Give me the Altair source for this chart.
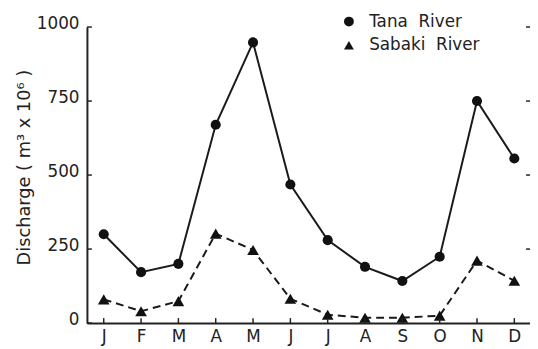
import altair as alt
import pandas as pd

MONTHS = ["J", "F", "M", "A", "M", "J", "J", "A", "S", "O", "N", "D"]
MONTH_NUM = list(range(1, 13))
TANA = [300, 172, 200, 670, 948, 468, 280, 190, 142, 224, 750, 556]
SABAKI = [80, 40, 74, 302, 247, 82, 28, 18, 18, 25, 211, 143]
Y_TICKS = [0, 250, 500, 750, 1000]
SERIES = ["Tana River", "Sabaki River"]

rows = []
for m, t, s in zip(MONTH_NUM, TANA, SABAKI):
    rows.append({"m": m, "v": t, "river": SERIES[0]})
    rows.append({"m": m, "v": s, "river": SERIES[1]})
df = pd.DataFrame(rows)
yt = pd.DataFrame({"v": Y_TICKS})
yt_r = pd.DataFrame({"v": Y_TICKS[1:]})
xt = pd.DataFrame({"m": MONTH_NUM})

FONT = "DejaVu Sans"
W, H = 449, 300
xscale = alt.Scale(domain=[0.55, 12.42], nice=False, zero=False)
yscale = alt.Scale(domain=[0, 1000], nice=False)

label_expr = "[" + ",".join("'%s'" % s for s in MONTHS) + "][datum.value - 1]"

xaxis = alt.Axis(values=MONTH_NUM, labelExpr=label_expr, ticks=False, grid=False,
                 domainColor="#222", domainWidth=2, labelFontSize=17, labelFont=FONT,
                 labelColor="#222", labelPadding=6, title=None, labelFlush=False)
yaxis = alt.Axis(values=Y_TICKS, format="d", ticks=False, grid=False, domainColor="#222", domainWidth=2,
                 labelFontSize=17, labelFont=FONT, labelColor="#222", labelPadding=8,
                 labelOffset=-4, labelFlush=False,
                 title="Discharge ( m³ x 10⁶ )", titleFont=FONT, titleFontSize=18,
                 titleFontWeight="normal", titleColor="#222", titleAngle=-90,
                 titleX=-63, titleY=142, titleAlign="center", titleBaseline="middle")

X = alt.X("m:Q", scale=xscale, axis=xaxis)
Y = alt.Y("v:Q", scale=yscale, axis=yaxis)
shape_scale = alt.Scale(domain=SERIES, range=["circle", "triangle-up"])
legend = alt.Legend(title=None, orient="none", legendX=257, legendY=-14,
                    labelFontSize=17, labelFont=FONT, labelColor="#222",
                    labelExpr="replace(datum.label, ' ', '\u00a0\u00a0')",
                    symbolFillColor="#111", symbolStrokeColor="#111",
                    symbolSize=100, rowPadding=6, padding=0, labelOffset=12)

base = alt.Chart(df)
tana = base.transform_filter(alt.datum.river == SERIES[0])
sabaki = base.transform_filter(alt.datum.river == SERIES[1])

line_t = tana.mark_line(color="#1a1a1a", strokeWidth=2).encode(x=X, y=Y)
line_s = sabaki.mark_line(color="#1a1a1a", strokeWidth=2, strokeDash=[8, 5]).encode(x=X, y=Y)
pts_t = tana.mark_point(filled=True, color="#111", opacity=1, size=105).encode(
    x=X, y=Y, shape=alt.Shape("river:N", scale=shape_scale, sort=SERIES, legend=legend))
pts_s = sabaki.mark_point(filled=True, color="#111", opacity=1, size=140).encode(
    x=X, y=Y, shape=alt.Shape("river:N", scale=shape_scale, sort=SERIES, legend=legend))

ytick_l = alt.Chart(yt).mark_rule(color="#222", strokeWidth=1.5).encode(
    y=Y, x=alt.value(0), x2=alt.value(5))
ytick_r = alt.Chart(yt_r).mark_rule(color="#222", strokeWidth=1.5).encode(
    y=Y, x=alt.value(W), x2=alt.value(W - 4))
xtick = alt.Chart(xt).mark_rule(color="#222", strokeWidth=1.5).encode(
    x=X, y=alt.value(H), y2=alt.value(H - 5))

chart = alt.layer(line_t, line_s, pts_t, pts_s, ytick_l, ytick_r, xtick).properties(
    width=W, height=H,
    autosize=alt.AutoSizeParams(type="none"),
    padding={"left": 80, "top": 17, "right": 0, "bottom": 24},
    background="white",
).configure_view(stroke=None)

chart.save("out.html", embed_options={"renderer": "svg", "actions": False})
